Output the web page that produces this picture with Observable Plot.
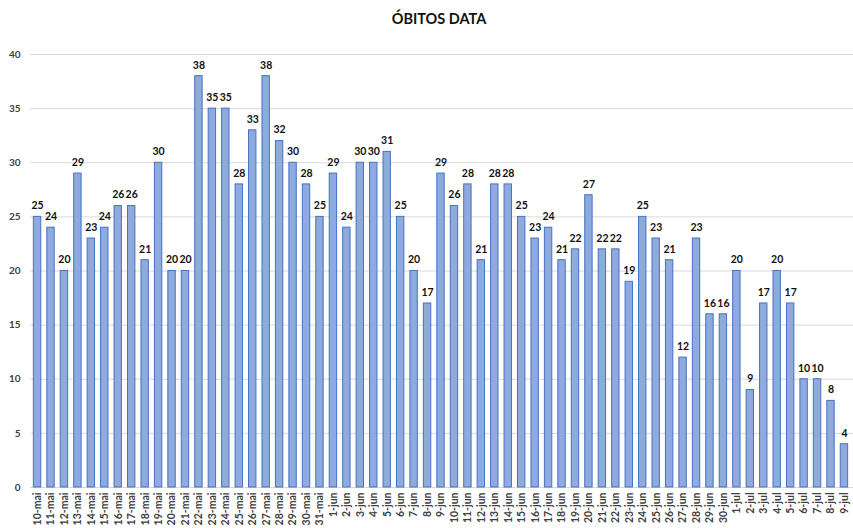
<!DOCTYPE html>
<html>
<head>
<meta charset="utf-8">
<script src="https://cdn.jsdelivr.net/npm/d3@7"></script>
<script src="https://cdn.jsdelivr.net/npm/@observablehq/plot@0.6"></script>
<style>
  html, body { margin: 0; padding: 0; background: #fff; overflow: hidden; }
  #wrap { position: relative; width: 853px; }
  #title { position: absolute; top: 10px; left: 439px; transform: translateX(-50%);
           font: bold 14.5px Lato, "Open Sans", sans-serif; color: #111; white-space: nowrap; }
  #chart { padding-top: 36px; }
</style>
</head>
<body>
<div id="wrap">
  <div id="title">ÓBITOS DATA</div>
  <div id="chart"></div>
</div>
<script>
const dates = [
  "10-mai","11-mai","12-mai","13-mai","14-mai","15-mai","16-mai","17-mai","18-mai","19-mai",
  "20-mai","21-mai","22-mai","23-mai","24-mai","25-mai","26-mai","27-mai","28-mai","29-mai",
  "30-mai","31-mai",
  "1-jun","2-jun","3-jun","4-jun","5-jun","6-jun","7-jun","8-jun","9-jun","10-jun",
  "11-jun","12-jun","13-jun","14-jun","15-jun","16-jun","17-jun","18-jun","19-jun","20-jun",
  "21-jun","22-jun","23-jun","24-jun","25-jun","26-jun","27-jun","28-jun","29-jun","30-jun",
  "1-jul","2-jul","3-jul","4-jul","5-jul","6-jul","7-jul","8-jul","9-jul"
];
const obitos = [
  25,24,20,29,23,24,26,26,21,30,20,20,38,35,35,28,33,38,32,30,28,25,
  29,24,30,30,31,25,20,17,29,26,28,21,28,28,25,23,24,21,22,27,22,22,19,25,23,21,12,23,16,16,
  20,9,17,20,17,10,10,8,4
];
const yTicks = [0,5,10,15,20,25,30,35,40];

const data = dates.map((d, i) => ({date: d, value: obitos[i]}));

const chart = Plot.plot({
  width: 853,
  height: 515,
  marginTop: 18,
  marginBottom: 64,
  marginLeft: 30,
  marginRight: 0,
  style: {fontFamily: "Lato, 'Open Sans', sans-serif", color: "#404040", background: "#fff"},
  x: {domain: dates, range: [27.3, 853.7], padding: 0.45, round: false, label: null, tickRotate: -90, tickSize: 0, tickPadding: 5},
  y: {domain: [0, 40], ticks: yTicks, label: null, tickSize: 0, tickPadding: 10},
  marks: [
    Plot.ruleY(yTicks, {stroke: "#d9d9d9", strokeWidth: 1}),
    Plot.barY(data, {x: "date", y: "value", fill: "#8faadc", stroke: "#4472c4", strokeWidth: 1}),
    Plot.text(data, {x: "date", y: "value", text: d => String(d.value), dy: -11,
      fill: "#111", fontWeight: "bold", fontSize: 10.5}),
    Plot.axisY({ticks: yTicks, tickSize: 0, tickPadding: 10, fontSize: 10, fontWeight: "bold", label: null}),
    Plot.axisX({tickRotate: -90, tickSize: 0, tickPadding: 5, fontSize: 10.5, fontWeight: "bold", label: null})
  ]
});
document.getElementById("chart").appendChild(chart);
</script>
</body>
</html>
